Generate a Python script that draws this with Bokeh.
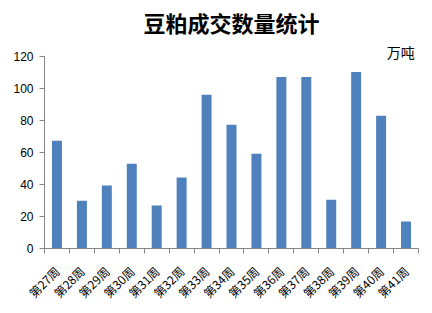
import math
from bokeh.plotting import figure
from bokeh.models import Range1d, ColumnDataSource, Label, FixedTicker, LinearAxis, CustomJSTickFormatter
from bokeh.embed import file_html
from bokeh.resources import INLINE

weeks = ["第27周", "第28周", "第29周", "第30周", "第31周", "第32周", "第33周", "第34周",
         "第35周", "第36周", "第37周", "第38周", "第39周", "第40周", "第41周"]
volume = [67.3, 29.9, 39.3, 53, 26.8, 44.3, 96, 77.3, 59.2, 107.2, 107.2, 30.5, 110.3, 82.9, 16.8]
y_ticks = [0, 20, 40, 60, 80, 100, 120]
title_text = "豆粕成交数量统计"
unit_text = "万吨"

n = len(weeks)
centers = [i + 0.5 for i in range(n)]

p = figure(width=432, height=313, x_range=Range1d(0, n),
           y_range=Range1d(0, 129.3), output_backend="svg", toolbar_location=None,
           min_border_left=44, min_border_right=14, min_border_top=40, min_border_bottom=65)

p.title.text = title_text
p.title.align = "center"
p.title.text_font = "Noto Sans CJK SC"
p.title.text_font_size = "22px"
p.title.text_font_style = "bold"
p.title.text_color = "#000000"
p.title.standoff = 7

src = ColumnDataSource(dict(x=centers, y=volume, name=weeks))
p.vbar(x="x", top="y", width=0.4, source=src, color="#4F81BD", line_color=None)

p.outline_line_color = None
p.xgrid.grid_line_color = None
p.ygrid.grid_line_color = None

p.yaxis.ticker = FixedTicker(ticks=y_ticks)
p.yaxis.bounds = (0, 120)
p.yaxis.minor_tick_line_color = None
p.yaxis.major_tick_out = 5
p.yaxis.major_tick_in = 0
p.yaxis.axis_line_color = "#868686"
p.yaxis.major_tick_line_color = "#868686"
p.yaxis.major_label_text_font = "Liberation Sans"
p.yaxis.major_label_text_font_size = "12px"
p.yaxis.major_label_text_color = "#000000"
p.yaxis.major_label_standoff = 6

# axis nearest the frame: line + boundary tick marks, no labels
tick_axis = p.xaxis[0]
tick_axis.ticker = FixedTicker(ticks=list(range(n + 1)))
tick_axis.formatter = CustomJSTickFormatter(code="return '';")
tick_axis.axis_line_color = "#868686"
tick_axis.major_tick_line_color = "#868686"
tick_axis.major_tick_out = 5
tick_axis.major_tick_in = 0
tick_axis.minor_tick_line_color = None
tick_axis.major_label_text_font_size = "1px"
tick_axis.major_label_standoff = 0

# category label axis
cat_axis = LinearAxis(ticker=FixedTicker(ticks=centers),
                      formatter=CustomJSTickFormatter(args=dict(labels=weeks),
                                                      code="return labels[Math.floor(tick)];"),
                      axis_line_color=None, major_tick_line_color=None, minor_tick_line_color=None,
                      major_label_orientation=math.pi / 4,
                      major_label_text_font="Noto Sans CJK SC", major_label_text_font_size="12px",
                      major_label_text_color="#000000", major_label_standoff=9)
p.add_layout(cat_axis, "below")

p.add_layout(Label(x=n - 0.15, y=123, text=unit_text, text_align="right",
                   text_baseline="middle", text_font="Noto Sans CJK SC", text_font_size="14px",
                   text_color="#000000"))

open("out.html", "w").write(file_html(p, INLINE))
